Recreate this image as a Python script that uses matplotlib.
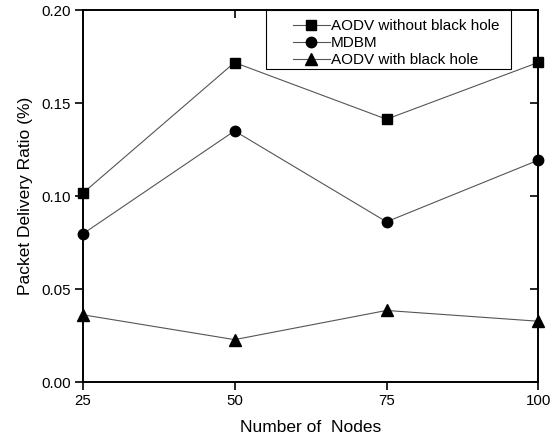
import matplotlib
matplotlib.use("Agg")
import matplotlib.pyplot as plt
from matplotlib.patches import Rectangle

plt.rcParams['font.family'] = ['Liberation Sans', 'DejaVu Sans']

nodes = [25, 50, 75, 100]
aodv_without = [0.1015, 0.1719, 0.1414, 0.1720]
mdbm = [0.0796, 0.1351, 0.0862, 0.1194]
aodv_with = [0.0362, 0.0228, 0.0385, 0.0327]
xticks = [25, 50, 75, 100]
yticks = [0.00, 0.05, 0.10, 0.15, 0.20]

fig = plt.figure(figsize=(5.58, 4.42), dpi=100)
ax = fig.add_axes([0.148, 0.1357, 0.817, 0.841])

lc = '#555555'
ax.plot(nodes, aodv_without, color=lc, lw=0.8, marker='s', ms=7, mfc='black', mec='black',
        label='AODV without black hole', clip_on=False, zorder=3)
ax.plot(nodes, mdbm, color=lc, lw=0.8, marker='o', ms=7.5, mfc='black', mec='black',
        label='MDBM', clip_on=False, zorder=3)
ax.plot(nodes, aodv_with, color=lc, lw=0.8, marker='^', ms=9, mfc='black', mec='black',
        label='AODV with black hole', clip_on=False, zorder=3)

ax.set_xlim(25, 100)
ax.set_ylim(0, 0.20)
ax.set_xticks(xticks)
ax.set_yticks(yticks)
ax.set_yticklabels([f'{v:.2f}' for v in yticks])
ax.tick_params(direction='out', length=5.5, width=1.2, labelsize=10.8, pad=3)
for s in ax.spines.values():
    s.set_linewidth(1.4)

# inward ticks on top and right
top = ax.secondary_xaxis('top')
top.set_xticks(xticks)
top.tick_params(direction='in', length=5.5, width=1.2, labeltop=False)
right = ax.secondary_yaxis('right')
right.set_yticks(yticks)
right.tick_params(direction='in', length=5.5, width=1.2, labelright=False)
for sec in (top, right):
    for s in sec.spines.values():
        s.set_visible(False)

ax.set_xlabel('Number of  Nodes', fontsize=12.5, labelpad=9)
ax.set_ylabel('Packet Delivery Ratio (%)', fontsize=12.5, labelpad=6)

# legend box
ax.add_patch(Rectangle((0.402, 0.841), 0.538, 0.159, transform=ax.transAxes,
                       fill=True, facecolor='white', edgecolor='black', lw=0.8,
                       zorder=4, clip_on=False))
leg = ax.legend(loc='upper left', bbox_to_anchor=(0.4616, 0.977), borderaxespad=0,
                fontsize=11, labelspacing=0.2, borderpad=0, handlelength=2.4,
                handletextpad=0.1, frameon=False)
leg.set_zorder(5)

fig.savefig('out.png', dpi=100)
